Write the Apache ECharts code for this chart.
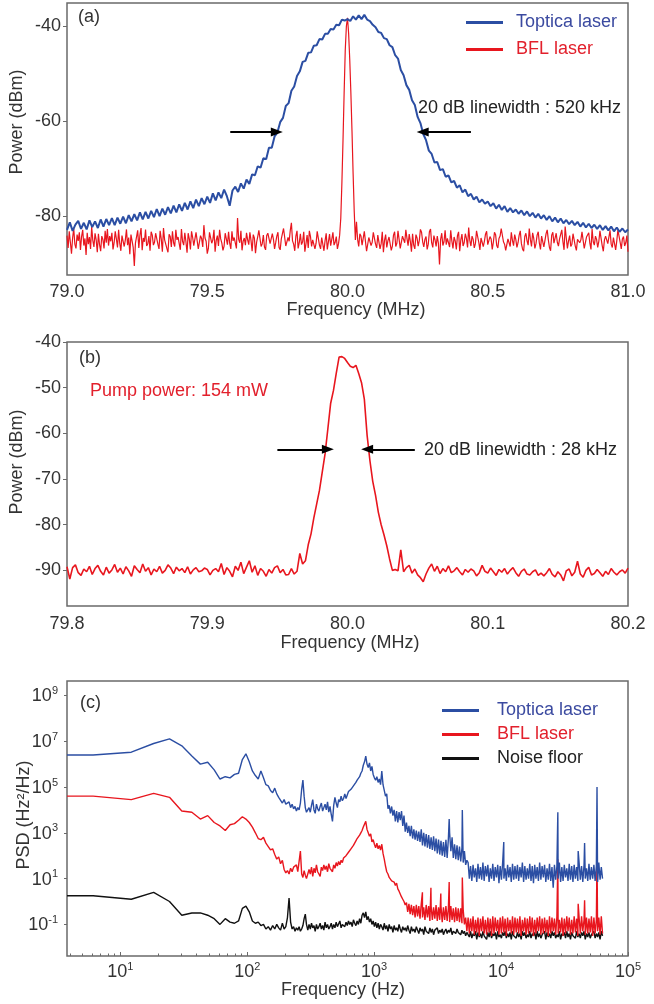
<!DOCTYPE html>
<html>
<head>
<meta charset="utf-8">
<script src="https://cdn.jsdelivr.net/npm/echarts@6/dist/echarts.min.js"></script>
<style>
  html, body { margin: 0; padding: 0; background: #fff; }
  #chart { width: 654px; height: 1004px; }
</style>
</head>
<body>
<div id="chart"></div>
<script>
// ---------- (a) heterodyne beat spectra, 79–81 MHz (dBm) ----------
// Toptica laser: one sample every 10 kHz from 79.00 MHz
const topticaBeatA = [
  -82.9,-81.3,-83.1,-81.8,-81.0,-82.7,-81.4,-82.8,-80.9,-82.3,
  -81.1,-82.5,-80.7,-82.2,-80.6,-81.9,-80.4,-81.9,-80.3,-81.6,
  -80.1,-81.5,-79.8,-81.1,-79.6,-80.9,-79.2,-80.7,-79.1,-80.5,
  -78.9,-80.2,-78.5,-80.0,-78.4,-79.7,-78.1,-79.4,-77.8,-79.2,
  -77.5,-78.9,-77.2,-78.6,-76.9,-78.3,-76.5,-77.9,-76.2,-77.5,
  -75.9,-77.2,-75.2,-76.7,-75.0,-76.2,-74.4,-75.8,-77.8,-74.6,
  -73.8,-74.9,-73.1,-74.2,-72.3,-73.2,-71.2,-71.4,-69.5,-69.8,
  -67.8,-68.0,-65.6,-65.6,-63.2,-62.4,-60.2,-59.3,-56.8,-56.2,
  -53.6,-52.7,-50.5,-49.5,-47.5,-47.3,-45.6,-45.5,-44.1,-44.0,
  -42.7,-42.8,-41.6,-41.6,-40.6,-40.7,-39.7,-39.8,-38.6,-38.8,
  -38.5,-38.9,-37.9,-38.6,-37.7,-38.5,-37.6,-38.6,-38.9,-39.7,
  -40.2,-41.2,-41.4,-42.5,-42.7,-44.0,-44.4,-46.1,-46.8,-49.2,
  -50.3,-52.4,-53.4,-55.6,-56.6,-59.1,-60.4,-62.7,-64.0,-66.2,
  -66.9,-68.7,-68.6,-70.3,-70.1,-71.7,-71.4,-72.9,-72.6,-74.0,
  -73.5,-75.0,-74.4,-75.8,-75.3,-76.5,-75.9,-77.1,-76.5,-77.4,
  -76.9,-77.9,-77.3,-78.4,-77.6,-78.7,-77.9,-79.1,-78.3,-79.2,
  -78.6,-79.5,-78.8,-79.8,-79.0,-80.0,-79.3,-80.3,-79.5,-80.5,
  -79.8,-80.8,-80.0,-81.1,-80.3,-81.3,-80.5,-81.5,-80.8,-81.7,
  -81.0,-81.9,-81.2,-82.2,-81.4,-82.4,-81.6,-82.5,-81.8,-82.7,
  -81.9,-82.9,-82.1,-83.0,-82.2,-83.2,-82.4,-83.3,-82.6,-83.4,
  -82.8
];
// BFL laser: one sample every 4 kHz from 79.000 MHz
const bflBeatA = [
  -84.1,-86.7,-83.2,-85.5,-87.9,-84.6,-82.6,-85.9,-86.8,-83.9,
  -85.2,-83.4,-87.1,-84.3,-82.9,-86.2,-84.7,-88.2,-83.5,-85.9,
  -84.4,-86.9,-82.3,-85.1,-86.5,-83.6,-85.0,-87.6,-83.7,-86.0,
  -87.4,-84.2,-84.9,-86.8,-83.1,-85.6,-82.7,-86.2,-84.2,-85.3,
  -83.5,-87.0,-85.6,-83.2,-84.8,-86.6,-82.9,-85.7,-87.3,-84.1,
  -83.8,-86.4,-85.0,-82.8,-86.1,-84.5,-88.0,-83.9,-85.2,-86.6,
  -90.5,-85.7,-85.3,-83.0,-86.7,-84.0,-82.5,-87.2,-84.6,-85.4,
  -82.8,-86.3,-85.8,-84.2,-87.3,-83.3,-84.0,-86.1,-85.5,-83.6,
  -83.4,-85.9,-86.9,-83.1,-84.8,-87.5,-82.5,-85.0,-85.1,-86.8,
  -87.6,-83.8,-84.3,-86.5,-83.2,-85.6,-86.4,-82.9,-85.0,-84.4,
  -84.2,-87.1,-82.7,-85.3,-86.1,-83.5,-85.4,-87.7,-83.6,-84.8,
  -87.0,-83.2,-84.5,-86.2,-85.9,-83.4,-83.0,-86.9,-86.6,-84.1,
  -84.7,-86.5,-81.9,-84.6,-85.3,-87.9,-86.8,-83.4,-83.8,-85.7,
  -85.0,-82.9,-87.5,-85.1,-84.1,-86.3,-82.9,-84.8,-85.7,-87.2,
  -86.3,-83.6,-84.0,-86.0,-83.3,-85.7,-86.9,-83.2,-85.2,-84.5,
  -84.4,-86.8,-80.4,-84.9,-85.6,-83.1,-87.2,-85.3,-84.6,-86.1,
  -83.5,-85.0,-86.0,-83.4,-85.1,-87.4,-83.9,-84.6,-87.8,-85.5,
  -84.3,-83.0,-82.8,-86.4,-85.8,-84.0,-86.5,-87.1,-84.1,-83.6,
  -83.2,-85.8,-86.2,-83.7,-84.9,-86.9,-85.6,-84.2,-83.4,-86.6,
  -87.1,-84.8,-84.7,-82.6,-82.6,-86.3,-86.0,-84.5,-85.3,-83.0,
  -81.4,-85.2,-85.9,-87.3,-84.2,-83.1,-86.8,-85.6,-83.7,-86.0,
  -85.4,-83.3,-87.5,-85.8,-84.0,-86.7,-83.1,-84.3,-86.4,-85.0,
  -84.8,-86.9,-85.7,-83.2,-83.5,-86.1,-86.9,-84.5,-84.4,-87.3,
  -85.2,-83.6,-87.0,-85.4,-83.8,-86.2,-84.9,-83.4,-86.1,-85.5,
  -84.3,-86.9,-85.8,-84.0,-80.5,-73.0,-64.0,-54.0,-45.0,-40.0,
  -38.2,-41.5,-47.0,-54.0,-62.0,-71.0,-79.0,-85.0,-81.2,-84.9,
  -86.4,-83.7,-84.2,-86.1,-85.9,-83.2,-83.6,-87.4,-87.3,-84.5,
  -84.8,-86.2,-85.5,-83.4,-83.0,-85.9,-86.7,-84.0,-84.1,-86.9,
  -85.8,-83.3,-87.6,-85.1,-83.9,-86.6,-85.2,-84.4,-84.5,-87.2,
  -86.3,-84.0,-83.3,-86.4,-85.7,-83.1,-84.9,-86.8,-87.0,-84.2,
  -84.0,-85.6,-82.9,-84.7,-86.2,-83.8,-85.3,-87.5,-83.7,-86.1,
  -86.9,-83.9,-84.6,-86.3,-85.1,-82.8,-83.4,-85.4,-86.5,-84.9,
  -84.3,-87.0,-85.9,-83.3,-82.7,-85.6,-86.6,-84.1,-85.0,-86.4,
  -84.2,-85.7,-90.2,-84.9,-83.6,-86.2,-85.4,-83.0,-86.0,-84.7,
  -84.5,-86.5,-83.0,-85.2,-86.8,-84.4,-85.2,-87.0,-84.1,-83.3,
  -87.4,-85.0,-83.8,-86.3,-85.6,-83.7,-84.7,-86.6,-82.4,-85.1,
  -86.3,-84.2,-84.9,-86.7,-85.8,-83.1,-83.5,-85.5,-87.1,-84.6,
  -84.4,-86.4,-85.3,-83.8,-83.2,-86.0,-86.1,-84.3,-84.8,-87.0,
  -85.5,-83.4,-83.9,-86.2,-86.7,-84.7,-84.2,-82.6,-82.8,-85.4,
  -85.9,-87.2,-87.3,-84.8,-84.6,-86.4,-83.4,-85.1,-86.2,-83.9,
  -84.9,-86.6,-85.6,-84.0,-83.1,-85.8,-86.9,-87.4,-84.3,-83.6,
  -85.2,-86.1,-82.6,-84.9,-86.4,-83.5,-84.7,-86.8,-85.8,-84.0,
  -83.3,-85.7,-87.0,-84.2,-84.5,-86.5,-85.1,-83.7,-82.9,-85.0,
  -86.6,-87.3,-84.0,-83.4,-85.7,-86.0,-83.6,-85.5,-86.3,-84.8,
  -84.8,-82.9,-85.4,-87.1,-82.2,-84.6,-86.8,-85.2,-84.1,-86.4,
  -85.9,-83.7,-83.7,-86.3,-87.2,-84.9,-84.6,-85.6,-85.0,-83.3,
  -83.2,-86.8,-86.5,-84.4,-84.4,-83.5,-85.7,-87.0,-82.7,-85.4,
  -86.1,-84.2,-84.9,-86.6,-85.3,-83.1,-83.5,-86.2,-87.4,-85.0,
  -84.2,-83.8,-85.8,-86.0,-83.0,-85.9,-86.6,-84.5,-84.7,-87.1,
  -85.2,-82.9,-82.5,-85.5,-86.9,-84.8,-84.3,-86.3,-85.6,-84.1,
  -87.5
];
const powerTicksA = [-80, -60, -40];

// ---------- (b) BFL beat spectrum, 79.8–80.2 MHz (dBm) ----------
// one sample every 2 kHz from 79.800 MHz
const bflBeatB = [
  -89.2,-91.9,-89.4,-88.8,-90.5,-91.1,-89.7,-90.3,-89.1,-90.9,
  -89.6,-88.9,-90.2,-91.0,-89.3,-90.6,-89.9,-88.7,-90.4,-89.5,
  -90.8,-89.2,-90.1,-91.3,-89.0,-89.8,-90.5,-88.6,-90.2,-89.4,
  -91.0,-89.7,-90.3,-89.1,-90.6,-90.0,-88.8,-89.5,-90.7,-89.3,
  -90.1,-89.6,-90.5,-89.2,-90.8,-89.9,-89.4,-90.3,-90.1,-89.5,
  -89.8,-91.0,-90.0,-89.6,-90.3,-88.5,-90.9,-89.4,-90.2,-91.4,
  -89.1,-90.0,-88.2,-90.7,-89.3,-87.9,-90.4,-89.0,-91.1,-89.6,
  -90.2,-91.3,-89.8,-90.6,-89.4,-89.0,-90.5,-89.8,-91.0,-90.9,
  -89.6,-90.8,-90.2,-86.3,-88.6,-87.9,-84.4,-82.0,-78.5,-75.5,
  -72.5,-68.5,-64.5,-59.0,-53.4,-50.6,-46.8,-43.3,-43.2,-43.6,
  -44.5,-45.3,-45.6,-45.1,-46.9,-48.9,-52.5,-60.5,-66.0,-70.5,
  -73.6,-77.3,-80.0,-82.2,-84.6,-87.5,-90.0,-89.8,-90.1,-85.5,
  -90.3,-89.4,-88.9,-90.6,-89.7,-91.0,-91.6,-92.5,-90.8,-89.5,
  -88.6,-90.2,-89.1,-90.7,-89.6,-90.3,-89.0,-90.5,-90.1,-89.4,
  -90.3,-91.0,-89.8,-90.4,-89.7,-90.1,-91.2,-90.5,-88.9,-90.2,
  -90.6,-89.5,-90.3,-91.1,-89.8,-90.4,-89.6,-90.8,-90.0,-89.4,
  -90.5,-91.3,-90.2,-89.7,-90.8,-91.0,-90.3,-89.9,-91.1,-90.6,
  -91.2,-90.5,-89.6,-90.9,-91.4,-90.3,-91.0,-92.3,-90.1,-89.7,
  -91.2,-90.4,-88.0,-90.8,-91.5,-90.0,-89.3,-91.0,-90.7,-89.8,
  -90.5,-91.3,-90.2,-90.9,-89.6,-90.4,-91.0,-90.3,-89.9,-90.6,
  -89.5
];
const powerTicksB = [-90, -80, -70, -60, -50, -40];

// 20 dB linewidth markers (MHz, dBm)
const linewidthA = { level: -62.25, tails: [79.582, 80.44], tips: [79.748, 80.268] };
const linewidthB = { level: -63.5, tails: [79.950, 80.048], tips: [79.986, 80.014] };

// ---------- (c) frequency-noise PSD, values as log10(Hz²/Hz) ----------
const psdLowFreq = [
  3.8, 6.1, 12.2, 18.3, 24.4, 30.5, 36.6, 42.7, 48.8, 54.9,
  61.0, 67.1, 73.2, 79.3, 85.4, 91.5, 97.6, 103.7, 109.8, 115.9,
  122.0, 128.1, 134.2, 140.3, 146.4, 152.5, 158.6, 164.7, 170.8, 176.9,
  183.0, 189.1, 195.2, 201.3, 207.4, 213.5, 219.6, 225.7, 231.8, 237.9,
  244.0, 250.1, 256.2, 262.3, 268.4, 274.5, 280.6, 286.7, 292.8
];
const topticaPsdLow = [
  6.40, 6.40, 6.52, 6.90, 7.10, 6.80, 6.35, 6.00, 6.08, 5.75,
  5.35, 5.45, 5.40, 5.55, 5.60, 6.20, 6.45, 6.10, 5.70, 5.50,
  5.35, 5.70, 5.40, 5.10, 5.05, 4.85, 4.75, 4.95, 4.70, 4.55,
  4.50, 4.30, 4.45, 4.25, 4.20, 4.35, 4.10, 4.25, 4.05, 4.15,
  3.95, 4.10, 4.00, 4.30, 4.90, 5.30, 4.60, 4.10, 3.90
];
const bflPsdLow = [
  4.60, 4.60, 4.45, 4.72, 4.55, 3.95, 3.90, 3.60, 3.75, 3.45,
  3.30, 3.10, 3.35, 3.40, 3.55, 3.70, 3.60, 3.45, 3.25, 3.00,
  2.75, 2.70, 2.80, 2.55, 2.40, 2.25, 2.30, 2.05, 1.85, 1.95,
  1.65, 1.80, 1.40, 1.25, 1.35, 1.20, 1.45, 1.30, 1.50, 1.55,
  1.60, 1.30, 1.30, 2.20, 1.20, 1.05, 1.35, 1.15, 1.00
];
const noisePsdLow = [
  0.25, 0.25, 0.10, 0.40, 0.00, -0.60, -0.50, -0.50, -0.60, -0.75,
  -1.00, -0.75, -0.90, -0.95, -0.85, -0.30, -0.20, -0.45, -0.85, -0.95,
  -0.90, -1.05, -1.00, -1.20, -1.10, -1.25, -1.05, -1.20, -1.00, -1.15,
  -1.25, -0.95, -1.20, -1.10, -0.70, 0.15, -0.90, -1.20, -1.10, -1.30,
  -1.15, -1.25, -1.10, -1.30, -1.20, -1.05, -0.75, -0.55, -1.00
];
// upper band: 240 log-spaced bins from 300 Hz to 63 kHz
const psdHighRange = [300, 63000];
const topticaPsdHigh = [
  3.95,4.1,3.9,4.2,4.45,4.0,3.85,4.25,4.05,3.95,
  4.15,4.3,3.95,4.1,4.25,4.0,4.35,3.9,4.15,3.8,
  3.5,4.2,4.55,4.3,4.1,4.45,4.35,4.6,4.4,4.5,
  4.7,4.5,4.65,4.8,4.75,4.9,4.85,5.05,5.0,5.2,
  5.3,5.25,5.45,5.6,5.7,5.95,6.1,6.35,6.0,5.85,
  6.05,5.7,5.9,5.55,5.4,5.3,5.45,5.2,5.35,5.1,
  5.7,5.1,5.15,4.6,4.7,4.05,4.2,3.85,4.15,3.75,
  4.0,3.5,3.95,3.45,3.9,3.55,3.95,3.3,3.75,3.05,
  3.45,3.0,3.3,2.85,3.3,2.75,3.15,2.7,3.1,2.65,
  3.05,2.6,3.15,2.45,3.0,2.4,2.95,2.35,2.9,2.3,
  2.8,2.25,2.85,2.2,2.75,2.1,2.7,2.05,2.65,2.0,
  2.6,1.95,2.7,1.9,2.75,3.0,2.2,2.8,1.9,2.5,
  1.85,2.45,1.8,2.4,1.75,2.35,1.7,2.2,1.6,1.8,
  1.7,1.0,1.55,0.9,1.6,1.05,1.45,0.85,1.65,1.0,
  1.5,0.95,1.7,0.9,1.55,1.1,1.6,0.85,1.45,1.0,
  1.65,0.9,1.5,1.05,1.6,0.8,1.55,0.95,1.7,1.0,
  1.45,0.9,1.6,1.05,1.5,0.85,1.65,0.95,1.55,1.0,
  1.6,0.9,1.5,1.05,1.7,0.85,1.55,0.95,1.45,1.0,
  1.65,0.9,1.55,0.8,1.6,1.0,1.5,0.9,1.7,0.95,
  1.55,1.05,1.6,0.85,1.45,0.95,1.65,0.9,1.5,0.6,
  1.6,0.95,1.55,1.0,1.7,0.85,1.5,0.9,1.6,1.05,
  1.45,0.9,1.65,0.95,1.55,0.85,1.6,1.0,1.5,0.9,
  1.7,0.95,1.55,0.85,1.6,1.0,1.45,0.9,1.65,0.95,
  1.5,1.0,1.6,0.9,1.55,0.85,1.7,0.95,1.5,1.0
];
const bflPsdHigh = [
  1.05,1.4,1.2,1.5,1.1,1.45,1.25,1.6,1.3,1.2,
  1.1,1.5,1.35,1.6,1.4,1.55,1.3,1.65,1.45,1.5,
  1.3,1.6,1.45,1.7,1.55,1.75,1.6,1.8,1.7,1.9,
  1.85,2.0,1.95,2.15,2.1,2.3,2.25,2.45,2.5,2.65,
  2.75,2.7,2.9,3.0,3.1,3.25,3.2,3.5,3.15,3.0,
  2.85,2.95,2.6,2.7,2.5,2.35,2.55,2.3,2.45,2.25,
  2.5,2.1,1.85,1.55,1.3,1.2,1.05,1.1,0.9,0.95,
  0.85,0.7,0.8,0.55,0.45,0.4,0.2,0.1,0.0,-0.15,
  -0.05,-0.45,-0.1,-0.55,-0.15,-0.6,-0.2,-0.7,-0.15,-0.65,
  -0.2,-0.75,-0.1,-0.7,-0.25,-0.8,-0.15,-0.7,-0.2,-0.85,
  -0.2,-0.8,-0.25,-0.75,-0.15,-0.85,-0.25,-0.8,-0.2,-0.9,
  -0.25,-0.8,-0.2,-0.85,-0.3,-0.9,-0.2,-0.8,-0.3,-0.9,
  -0.25,-0.85,-0.3,-0.9,-0.3,-0.95,-0.35,-1.0,-0.7,-1.3,
  -0.7,-1.4,-0.75,-1.3,-0.65,-1.45,-0.8,-1.35,-0.7,-1.5,
  -0.75,-1.3,-0.65,-1.4,-0.8,-1.45,-0.7,-1.35,-0.75,-1.5,
  -0.65,-1.4,-0.7,-1.3,-0.8,-1.45,-0.7,-1.4,-0.65,-1.35,
  -0.75,-1.5,-0.7,-1.3,-0.8,-1.4,-0.65,-1.45,-0.7,-1.35,
  -0.75,-1.4,-0.65,-1.5,-0.8,-1.3,-0.7,-1.45,-0.75,-1.4,
  -0.65,-1.35,-0.7,-1.5,-0.8,-1.4,-0.7,-1.3,-0.65,-1.45,
  -0.75,-1.4,-0.7,-1.35,-0.8,-1.5,-0.65,-1.4,-0.7,-1.3,
  -0.75,-1.45,-0.65,-1.4,-0.8,-1.35,-0.7,-1.5,-0.75,-1.4,
  -0.65,-1.3,-0.7,-1.45,-0.8,-1.4,-0.65,-1.35,-0.75,-1.5,
  -0.7,-1.4,-0.65,-1.3,-0.8,-1.45,-0.7,-1.4,-0.75,-1.35,
  -0.65,-1.5,-0.7,-1.4,-0.8,-1.3,-0.7,-1.45,-0.65,-1.4
];
const noisePsdHigh = [
  -1.25,-1.0,-1.2,-0.95,-1.15,-1.05,-1.3,-1.0,-1.2,-1.1,
  -0.95,-1.2,-1.05,-1.25,-0.9,-1.15,-1.0,-1.2,-1.1,-0.95,
  -1.2,-1.0,-1.15,-0.9,-1.1,-1.05,-0.85,-1.15,-1.0,-0.95,
  -1.1,-0.9,-1.05,-0.85,-1.0,-0.9,-1.1,-0.8,-0.95,-1.05,
  -0.85,-1.0,-0.75,-0.95,-0.6,-0.5,-0.7,-0.45,-0.8,-0.65,
  -0.9,-0.75,-1.0,-0.85,-1.1,-0.9,-1.15,-0.95,-1.2,-1.0,
  -1.1,-1.25,-0.95,-1.2,-1.05,-1.3,-1.0,-1.2,-1.1,-1.35,
  -1.05,-1.25,-1.15,-1.3,-1.0,-1.2,-1.35,-1.1,-1.25,-1.15,
  -1.3,-1.05,-1.25,-1.4,-1.1,-1.3,-1.2,-1.35,-1.1,-1.25,
  -1.4,-1.15,-1.3,-1.2,-1.45,-1.1,-1.3,-1.25,-1.4,-1.15,
  -1.35,-1.2,-1.45,-1.25,-1.3,-1.15,-1.4,-1.25,-1.35,-1.2,
  -1.45,-1.3,-1.2,-1.4,-1.25,-1.35,-1.15,-1.45,-1.3,-1.25,
  -1.4,-1.2,-1.35,-1.3,-1.45,-1.25,-1.4,-1.3,-1.5,-1.35,
  -1.35,-1.55,-1.3,-1.6,-1.4,-1.5,-1.3,-1.65,-1.35,-1.55,
  -1.4,-1.6,-1.3,-1.5,-1.45,-1.65,-1.35,-1.55,-1.3,-1.6,
  -1.4,-1.5,-1.35,-1.65,-1.3,-1.55,-1.45,-1.6,-1.35,-1.5,
  -1.3,-1.6,-1.4,-1.55,-1.35,-1.65,-1.3,-1.5,-1.45,-1.6,
  -1.35,-1.55,-1.4,-1.65,-1.3,-1.5,-1.35,-1.6,-1.45,-1.55,
  -1.3,-1.6,-1.4,-1.5,-1.35,-1.65,-1.3,-1.55,-1.4,-1.6,
  -1.45,-1.5,-1.3,-1.65,-1.35,-1.55,-1.4,-1.6,-1.3,-1.5,
  -1.35,-1.6,-1.45,-1.55,-1.3,-1.65,-1.4,-1.5,-1.35,-1.6,
  -1.3,-1.55,-1.4,-1.65,-1.35,-1.5,-1.45,-1.6,-1.3,-1.55,
  -1.4,-1.6,-1.35,-1.5,-1.3,-1.65,-1.4,-1.55,-1.35,-1.6,
  -1.45,-1.5,-1.3,-1.6,-1.4,-1.55,-1.35,-1.65,-1.3,-1.5
];
// narrow spurs [Hz, log10 PSD]
const topticaPsdSpurs = [[3900, 3.6], [4950, 4.0], [10500, 2.6], [28000, 3.9], [40500, 2.2], [45500, 2.55], [57000, 5.0]];
const bflPsdSpurs = [[2400, 0.4], [2800, 0.6], [3350, 0.35], [3900, 0.85], [4950, 1.05], [28000, 1.85], [40500, -0.1], [45500, 0.05], [57000, 2.1]];
const psdTickExps = [-1, 1, 3, 5, 7, 9];
const freqTickExps = [1, 2, 3, 4, 5];

// ---------- styling ----------
const FONT = "'Liberation Sans', Arial, sans-serif";
const TEXT = '#333';
const BLUE = '#2b4ea3';
const RED = '#e8161e';
const FRAME = '#6a6a6a';

const psdHighFreq = topticaPsdHigh.map((_, i) =>
  psdHighRange[0] * Math.pow(psdHighRange[1] / psdHighRange[0], i / (topticaPsdHigh.length - 1)));

function psdSeriesData(low, high, spurs) {
  const pts = psdLowFreq.map((f, i) => [f, low[i]])
    .concat(psdHighFreq.map((f, i) => [f, high[i]]))
    .concat(spurs || []);
  pts.sort((a, b) => a[0] - b[0]);
  return pts.map(p => [Math.log10(p[0]), p[1]]);
}

const minorFreqTicks = [];
for (let d = 0; d <= 4; d++) {
  for (let k = 2; k <= 9; k++) minorFreqTicks.push(d + Math.log10(k));
}

const grids = [
  { left: 67, right: 26, top: 3, height: 272 },
  { left: 67, right: 26, top: 342, height: 264 },
  { left: 67, right: 26, top: 681, height: 275 }
].map(g => Object.assign(g, { show: true, borderColor: FRAME, borderWidth: 1.5, backgroundColor: 'transparent' }));

const labelBase = { color: TEXT, fontFamily: FONT, fontSize: 18 };
const powTen = {
  b: { fontFamily: FONT, fontSize: 18, color: TEXT, lineHeight: 20, verticalAlign: 'bottom' },
  s: { fontFamily: FONT, fontSize: 11, color: TEXT, lineHeight: 12, verticalAlign: 'top' }
};
const powTenLabel = v => '{b|10}{s|' + v + '}';
const hiddenLine = { show: false, onZero: false };

function arrowMarks(m) {
  return {
    silent: true,
    symbol: ['none', 'triangle'],
    symbolSize: [9, 12],
    label: { show: false },
    lineStyle: { color: '#000', width: 2, type: 'solid' },
    emphasis: { disabled: true },
    data: [
      [{ coord: [m.tails[0], m.level] }, { coord: [m.tips[0], m.level] }],
      [{ coord: [m.tails[1], m.level] }, { coord: [m.tips[1], m.level] }]
    ]
  };
}

function txt(text, x, y, opts) {
  return {
    type: 'text', x: x, y: y, rotation: (opts && opts.rotation) || 0, silent: true,
    style: Object.assign({
      text: text, fontFamily: FONT, fontSize: 18, fill: TEXT,
      textAlign: 'left', textVerticalAlign: 'middle'
    }, (opts && opts.style) || {})
  };
}

const chart = echarts.init(document.getElementById('chart'), null, { renderer: 'canvas' });

chart.setOption({
  animation: false,
  backgroundColor: '#fff',
  grid: grids,
  xAxis: [
    { type: 'value', gridIndex: 0, min: 79, max: 81, interval: 0.5, position: 'bottom',
      axisLine: hiddenLine, splitLine: { show: false }, axisTick: { show: false },
      axisLabel: Object.assign({ margin: 8, formatter: v => v.toFixed(1) }, labelBase) },
    { type: 'value', gridIndex: 1, min: 79.8, max: 80.2, interval: 0.1, position: 'bottom',
      axisLine: hiddenLine, splitLine: { show: false }, axisTick: { show: false },
      axisLabel: Object.assign({ margin: 9, formatter: v => v.toFixed(1) }, labelBase) },
    { type: 'value', gridIndex: 2, min: Math.log10(3.8), max: 5, position: 'bottom',
      axisLine: hiddenLine, splitLine: { show: false },
      axisTick: { show: true, inside: true, length: 4, customValues: freqTickExps, lineStyle: { color: FRAME, width: 1 } },
      axisLabel: { customValues: freqTickExps, margin: 5, formatter: powTenLabel, rich: powTen } },
    { type: 'value', gridIndex: 2, min: Math.log10(3.8), max: 5, position: 'bottom',
      axisLine: hiddenLine, splitLine: { show: false },
      axisTick: { show: true, inside: true, length: 2.5, customValues: minorFreqTicks, lineStyle: { color: FRAME, width: 1 } },
      axisLabel: { show: false } }
  ],
  yAxis: [
    { type: 'value', gridIndex: 0, min: -92.4, max: -35.1,
      axisLine: hiddenLine, splitLine: { show: false },
      axisTick: { show: true, length: 4, customValues: powerTicksA, lineStyle: { color: FRAME } },
      axisLabel: Object.assign({ customValues: powerTicksA, margin: 6 }, labelBase) },
    { type: 'value', gridIndex: 1, min: -97.8, max: -40,
      axisLine: hiddenLine, splitLine: { show: false },
      axisTick: { show: true, length: 4, customValues: powerTicksB, lineStyle: { color: FRAME } },
      axisLabel: Object.assign({ customValues: powerTicksB, margin: 6 }, labelBase) },
    { type: 'value', gridIndex: 2, min: -2.38, max: 9.63,
      axisLine: hiddenLine, splitLine: { show: false },
      axisTick: { show: true, length: 3, customValues: psdTickExps, lineStyle: { color: FRAME } },
      axisLabel: { customValues: psdTickExps, margin: 9, formatter: powTenLabel, rich: powTen } }
  ],
  legend: [
    { left: 461, top: 8.5, orient: 'vertical', icon: 'rect', itemWidth: 37, itemHeight: 3, itemGap: 9,
      selectedMode: false,
      textStyle: { fontFamily: FONT, fontSize: 18, lineHeight: 18, padding: [0, 0, 0, 8] },
      data: [
        { name: 'Toptica laser', textStyle: { color: '#3b4aa0' } },
        { name: 'BFL laser', textStyle: { color: '#e2202c' } }
      ] },
    { left: 437, top: 696.5, orient: 'vertical', icon: 'rect', itemWidth: 37, itemHeight: 3, itemGap: 6,
      selectedMode: false,
      textStyle: { fontFamily: FONT, fontSize: 18, lineHeight: 18, padding: [0, 0, 0, 13] },
      data: [
        { name: 'Toptica laser', textStyle: { color: '#3b4aa0' } },
        { name: 'BFL laser', textStyle: { color: '#e2202c' } },
        { name: 'Noise floor', textStyle: { color: '#222' } }
      ] }
  ],
  series: [
    { name: 'BFL laser', type: 'line', xAxisIndex: 0, yAxisIndex: 0, showSymbol: false, z: 2,
      color: RED, lineStyle: { width: 1.2, color: RED },
      data: bflBeatA.map((v, i) => [79 + i * 0.004, v]) },
    { name: 'Toptica laser', type: 'line', xAxisIndex: 0, yAxisIndex: 0, showSymbol: false, z: 3,
      color: BLUE, lineStyle: { width: 2, color: BLUE },
      data: topticaBeatA.map((v, i) => [79 + i * 0.01, v]),
      markLine: arrowMarks(linewidthA) },
    { name: 'BFL laser', type: 'line', xAxisIndex: 1, yAxisIndex: 1, showSymbol: false,
      color: RED, lineStyle: { width: 1.6, color: RED },
      data: bflBeatB.map((v, i) => [79.8 + i * 0.002, v]),
      markLine: arrowMarks(linewidthB) },
    { name: 'Noise floor', type: 'line', xAxisIndex: 2, yAxisIndex: 2, showSymbol: false, z: 2,
      color: '#111', lineStyle: { width: 1.4, color: '#111' },
      data: psdSeriesData(noisePsdLow, noisePsdHigh, []) },
    { name: 'BFL laser', type: 'line', xAxisIndex: 2, yAxisIndex: 2, showSymbol: false, z: 3,
      color: RED, lineStyle: { width: 1.4, color: RED },
      data: psdSeriesData(bflPsdLow, bflPsdHigh, bflPsdSpurs) },
    { name: 'Toptica laser', type: 'line', xAxisIndex: 2, yAxisIndex: 2, showSymbol: false, z: 4,
      color: BLUE, lineStyle: { width: 1.4, color: BLUE },
      data: psdSeriesData(topticaPsdLow, topticaPsdHigh, topticaPsdSpurs) }
  ],
  graphic: [
    txt('(a)', 78, 17),
    txt('20 dB linewidth : 520 kHz', 418, 108, { style: { fill: '#222' } }),
    txt('Power (dBm)', 17, 122, { rotation: Math.PI / 2, style: { textAlign: 'center' } }),
    txt('Frequency (MHz)', 356, 310, { style: { textAlign: 'center' } }),
    txt('(b)', 79, 358),
    txt('Pump power: 154 mW', 90, 391, { style: { fill: '#e2202c' } }),
    txt('20 dB linewidth : 28 kHz', 424, 450, { style: { fill: '#222' } }),
    txt('Power (dBm)', 17, 462, { rotation: Math.PI / 2, style: { textAlign: 'center' } }),
    txt('Frequency (MHz)', 350, 643, { style: { textAlign: 'center' } }),
    txt('(c)', 80, 703),
    txt('PSD (Hz\u00B2/Hz)', 24, 815, { rotation: Math.PI / 2, style: { textAlign: 'center' } }),
    txt('Frequency (Hz)', 343, 990, { style: { textAlign: 'center' } })
  ]
});
</script>
</body>
</html>
